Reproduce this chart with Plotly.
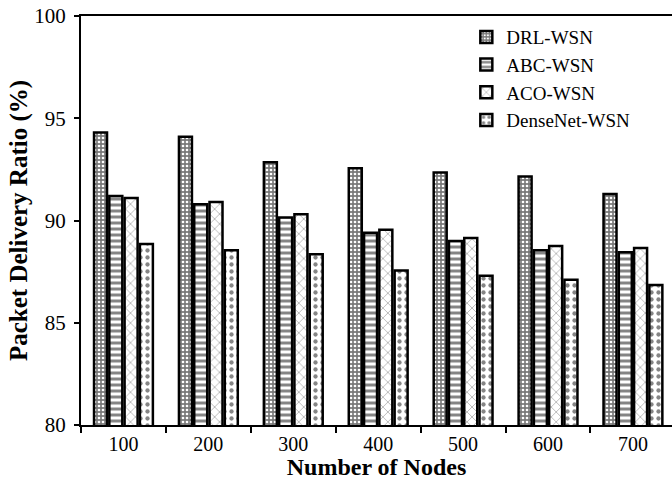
import plotly.graph_objects as go

nodes = ["100", "200", "300", "400", "500", "600", "700"]
drl_wsn = [94.3, 94.1, 92.85, 92.55, 92.35, 92.15, 91.3]
abc_wsn = [91.2, 90.8, 90.15, 89.4, 89.0, 88.55, 88.45]
aco_wsn = [91.1, 90.9, 90.3, 89.55, 89.15, 88.75, 88.65]
densenet_wsn = [88.85, 88.55, 88.35, 87.55, 87.3, 87.1, 86.85]

series = [
    ("DRL-WSN", drl_wsn, dict(shape=".", fgcolor="white", bgcolor="#7a7a7a", size=4, solidity=0.35, fillmode="replace")),
    ("ABC-WSN", abc_wsn, dict(shape="-", fgcolor="#858585", bgcolor="white", size=6, solidity=0.5, fillmode="replace")),
    ("ACO-WSN", aco_wsn, dict(shape="x", fgcolor="#a5a5a5", bgcolor="white", size=7, solidity=0.2, fillmode="replace")),
    ("DenseNet-WSN", densenet_wsn, dict(shape=".", fgcolor="#858585", bgcolor="white", size=7, solidity=0.3, fillmode="replace")),
]

fig = go.Figure()
for name, vals, pat in series:
    fig.add_trace(go.Bar(
        x=nodes, y=vals, name=name,
        marker=dict(color="white", line=dict(color="black", width=2.5), pattern=pat),
    ))

font_family = "Liberation Serif, Times New Roman, serif"
fig.update_layout(
    width=672, height=480,
    margin=dict(l=81, r=0, t=16, b=55, autoexpand=False),
    paper_bgcolor="white", plot_bgcolor="white",
    barmode="group", bargap=0.28, bargroupgap=0.15,
    font=dict(family=font_family, size=20, color="black"),
    showlegend=True,
    legend=dict(x=0.652, y=0.995, xanchor="left", yanchor="top",
                font=dict(family=font_family, size=19, color="black"),
                bgcolor="rgba(0,0,0,0)", tracegroupgap=0),
    xaxis=dict(
        type="category", range=[-0.5, 6.46], automargin=False,
        showline=True, linecolor="black", linewidth=2, mirror=True,
        ticks="outside", tickson="boundaries", ticklen=6, tickwidth=1.5, tickcolor="black",
        tickfont=dict(family=font_family, size=20),
        title=dict(text="<b>Number of Nodes</b>", font=dict(family=font_family, size=24), standoff=5),
        showgrid=False,
    ),
    yaxis=dict(
        range=[80, 100], tickvals=[80, 85, 90, 95, 100], automargin=False,
        showline=True, linecolor="black", linewidth=2, mirror=False,
        ticks="outside", ticklen=5, tickwidth=1.5, tickcolor="black",
        ticklabelstandoff=4,
        tickfont=dict(family=font_family, size=21),
        title=dict(text="<b>Packet Delivery Ratio (%)</b>", font=dict(family=font_family, size=25), standoff=0),
        showgrid=False, zeroline=False,
    ),
)

fig.write_html("out.html", config={"displayModeBar": False},
               post_script="document.body.style.margin='0';")
